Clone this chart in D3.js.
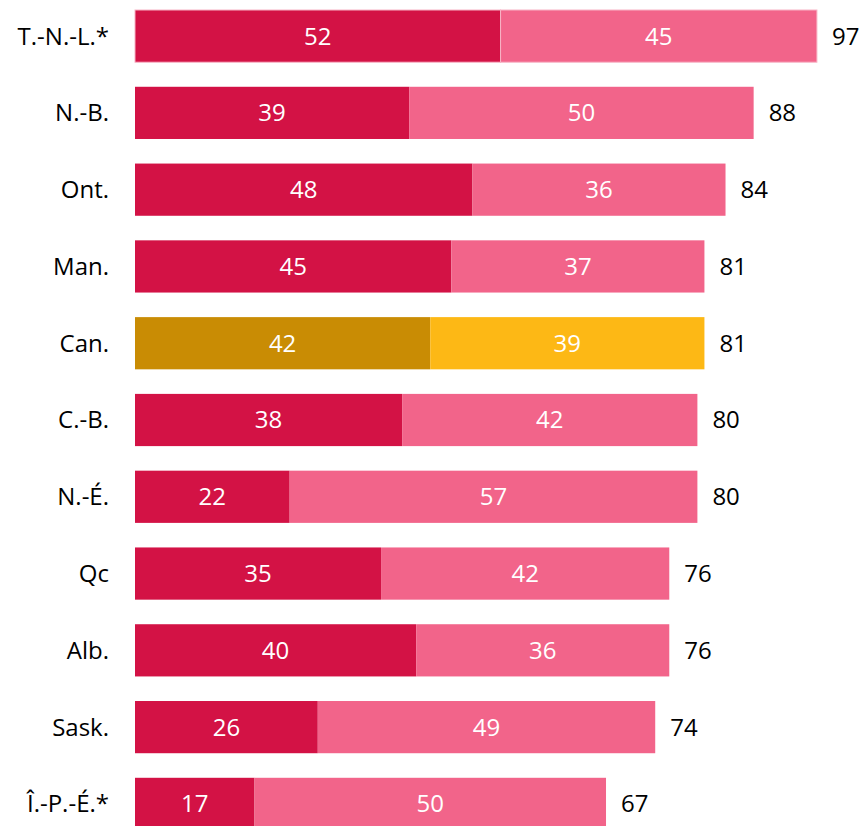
<!DOCTYPE html>
<html>
<head>
<meta charset="utf-8">
<script src="https://cdn.jsdelivr.net/npm/d3@7"></script>
<style>
  body { margin: 0; background: #fff; }
  svg text { font-family: "Open Sans", "Noto Sans", sans-serif; }
</style>
</head>
<body>
<div id="chart"></div>
<script>
"use strict";

// data
var provinces = ["T.-N.-L.*", "N.-B.", "Ont.", "Man.", "Can.", "C.-B.", "N.-É.", "Qc", "Alb.", "Sask.", "Î.-P.-É.*"];
var firstPart = [52, 39, 48, 45, 42, 38, 22, 35, 40, 26, 17];
var secondPart = [45, 50, 36, 37, 39, 42, 57, 42, 36, 49, 50];
var totals = [97, 88, 84, 81, 81, 80, 80, 76, 76, 74, 67];

var width = 863, height = 826;

var rows = provinces.map(function (p, i) {
  return { name: p, a: firstPart[i], b: secondPart[i], total: totals[i] };
});

var svg = d3.select("#chart")
            .append("svg")
            .attr("width", width)
            .attr("height", height);

var x = d3.scaleLinear()
          .domain([0, 100])
          .range([135, 838]);

var y = d3.scaleBand()
          .domain(provinces)
          .range([10, 830])
          .paddingInner(0.32)
          .paddingOuter(0);

// Canada row gets the gold colours
var darkCol = function (d) { return d.name === "Can." ? "#C98C04" : "#D31245"; };
var lightCol = function (d) { return d.name === "Can." ? "#FDB815" : "#F2648A"; };

var row = svg.selectAll(".row")
             .data(rows)
             .enter()
             .append("g")
             .attr("class", "row")
             .attr("transform", function (d) { return "translate(0," + y(d.name) + ")"; });

row.append("rect")
   .attr("x", x(0))
   .attr("y", 0)
   .attr("width", function (d) { return x(d.a) - x(0); })
   .attr("height", y.bandwidth())
   .attr("fill", darkCol);

row.append("rect")
   .attr("x", function (d) { return x(d.a); })
   .attr("y", 0)
   .attr("width", function (d) { return x(d.total) - x(d.a); })
   .attr("height", y.bandwidth())
   .attr("fill", lightCol);

// first row looks highlighted (thin light outline)
row.filter(function (d, i) { return i === 0; })
   .selectAll("rect")
   .attr("stroke", "#f7b3c5")
   .attr("stroke-width", 1);

// province labels
row.append("text")
   .attr("x", 109)
   .attr("y", y.bandwidth() / 2)
   .attr("dy", "0.35em")
   .attr("text-anchor", "end")
   .attr("font-size", 24)
   .attr("fill", "#000")
   .text(function (d) { return d.name; });

// values inside segments
row.append("text")
   .attr("x", function (d) { return (x(0) + x(d.a)) / 2; })
   .attr("y", y.bandwidth() / 2)
   .attr("dy", "0.35em")
   .attr("text-anchor", "middle")
   .attr("font-size", 24)
   .attr("fill", "#fff")
   .text(function (d) { return d.a; });

row.append("text")
   .attr("x", function (d) { return (x(d.a) + x(d.total)) / 2; })
   .attr("y", y.bandwidth() / 2)
   .attr("dy", "0.35em")
   .attr("text-anchor", "middle")
   .attr("font-size", 24)
   .attr("fill", "#fff")
   .text(function (d) { return d.b; });

// totals
row.append("text")
   .attr("x", function (d) { return x(d.total) + 15; })
   .attr("y", y.bandwidth() / 2)
   .attr("dy", "0.35em")
   .attr("text-anchor", "start")
   .attr("font-size", 24)
   .attr("fill", "#000")
   .text(function (d) { return d.total; });
</script>
</body>
</html>
